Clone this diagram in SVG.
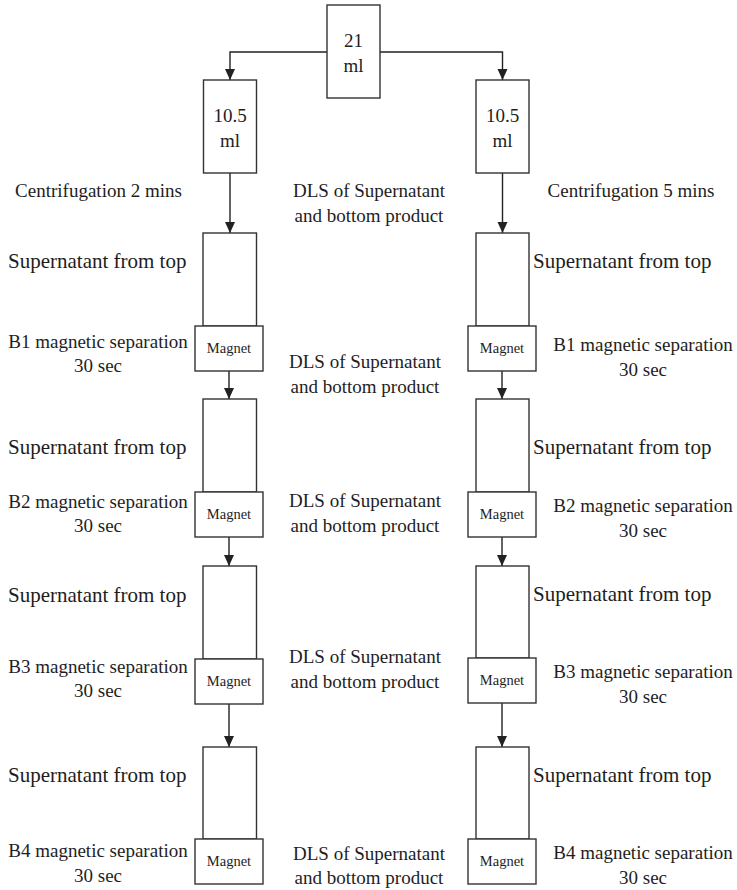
<svg xmlns="http://www.w3.org/2000/svg" width="737" height="890" viewBox="0 0 737 890">
<style>
  .box { fill: #ffffff; stroke: #333333; stroke-width: 1.4; }
  .conn { fill: none; stroke: #222222; stroke-width: 1.4; }
  text { font-family: "Liberation Serif", "Times New Roman", serif; fill: #1e1e1e; }
  .vol { font-size: 19px; text-anchor: middle; }
  .lbl { font-size: 19px; text-anchor: middle; }
  .sup { font-size: 21px; }
  .mag { font-size: 14.5px; text-anchor: middle; }
</style>
<defs>
  <marker id="arr" markerUnits="userSpaceOnUse" markerWidth="11" markerHeight="11" viewBox="0 0 11 10" refX="11" refY="5" orient="auto">
    <path d="M0,0 L11,5 L0,10 z" fill="#222222"/>
  </marker>
</defs>
<rect width="737" height="890" fill="#ffffff"/>

<g id="connectors">
  <path class="conn" d="M327,52 H230 V80" marker-end="url(#arr)"/>
  <path class="conn" d="M380,52 H502.5 V80" marker-end="url(#arr)"/>
  <path class="conn" d="M230,173 V233" marker-end="url(#arr)"/>
  <path class="conn" d="M502.5,173 V233" marker-end="url(#arr)"/>
  <path class="conn" d="M229,371 V399" marker-end="url(#arr)"/>
  <path class="conn" d="M229,537 V566" marker-end="url(#arr)"/>
  <path class="conn" d="M229,704 V747" marker-end="url(#arr)"/>
  <path class="conn" d="M502,371 V399" marker-end="url(#arr)"/>
  <path class="conn" d="M502,537 V566" marker-end="url(#arr)"/>
  <path class="conn" d="M502,703 V747" marker-end="url(#arr)"/>
</g>

<g id="top21">
  <rect class="box" x="327" y="5" width="53" height="93"/>
  <text class="vol" x="353.5" y="47">21</text>
  <text class="vol" x="353.5" y="72">ml</text>
</g>
<g id="left105">
  <rect class="box" x="203.5" y="80" width="53" height="93"/>
  <text class="vol" x="230" y="122">10.5</text>
  <text class="vol" x="230" y="147">ml</text>
</g>
<g id="right105">
  <rect class="box" x="476" y="80" width="53" height="93"/>
  <text class="vol" x="502.5" y="122">10.5</text>
  <text class="vol" x="502.5" y="147">ml</text>
</g>

<g id="left-tube1"><rect class="box" x="203" y="233" width="53.5" height="93"/></g>
<g id="left-mag1"><rect class="box" x="195" y="326" width="68" height="45"/><text class="mag" x="229" y="353">Magnet</text></g>
<g id="left-tube2"><rect class="box" x="203" y="399" width="53.5" height="93"/></g>
<g id="left-mag2"><rect class="box" x="195" y="492" width="68" height="45"/><text class="mag" x="229" y="519">Magnet</text></g>
<g id="left-tube3"><rect class="box" x="203" y="566" width="53.5" height="93"/></g>
<g id="left-mag3"><rect class="box" x="195" y="659" width="68" height="45"/><text class="mag" x="229" y="686">Magnet</text></g>
<g id="left-tube4"><rect class="box" x="203" y="747" width="53.5" height="92"/></g>
<g id="left-mag4"><rect class="box" x="195" y="839" width="68" height="45"/><text class="mag" x="229" y="866">Magnet</text></g>

<g id="right-tube1"><rect class="box" x="476" y="233" width="53" height="93"/></g>
<g id="right-mag1"><rect class="box" x="468" y="326" width="68" height="45"/><text class="mag" x="502" y="353">Magnet</text></g>
<g id="right-tube2"><rect class="box" x="476" y="399" width="53" height="93"/></g>
<g id="right-mag2"><rect class="box" x="468" y="492" width="68" height="45"/><text class="mag" x="502" y="519">Magnet</text></g>
<g id="right-tube3"><rect class="box" x="476" y="566" width="53" height="92"/></g>
<g id="right-mag3"><rect class="box" x="468" y="658" width="68" height="45"/><text class="mag" x="502" y="685">Magnet</text></g>
<g id="right-tube4"><rect class="box" x="476" y="747" width="53" height="92"/></g>
<g id="right-mag4"><rect class="box" x="468" y="839" width="68" height="45"/><text class="mag" x="502" y="866">Magnet</text></g>

<g id="labels-left">
  <text class="lbl" x="98.5" y="197">Centrifugation 2 mins</text>
  <text class="sup" x="8" y="268">Supernatant from top</text>
  <text class="lbl" x="98" y="348">B1 magnetic separation</text>
  <text class="lbl" x="98" y="372">30 sec</text>
  <text class="sup" x="8" y="454">Supernatant from top</text>
  <text class="lbl" x="98" y="508">B2 magnetic separation</text>
  <text class="lbl" x="98" y="532">30 sec</text>
  <text class="sup" x="8" y="602">Supernatant from top</text>
  <text class="lbl" x="98" y="673">B3 magnetic separation</text>
  <text class="lbl" x="98" y="697">30 sec</text>
  <text class="sup" x="8" y="782">Supernatant from top</text>
  <text class="lbl" x="98" y="857">B4 magnetic separation</text>
  <text class="lbl" x="98" y="882">30 sec</text>
</g>

<g id="labels-middle">
  <text class="lbl" x="369" y="197">DLS of Supernatant</text>
  <text class="lbl" x="369" y="222">and bottom product</text>
  <text class="lbl" x="365" y="368">DLS of Supernatant</text>
  <text class="lbl" x="365" y="393">and bottom product</text>
  <text class="lbl" x="365" y="507">DLS of Supernatant</text>
  <text class="lbl" x="365" y="532">and bottom product</text>
  <text class="lbl" x="365" y="663">DLS of Supernatant</text>
  <text class="lbl" x="365" y="688">and bottom product</text>
  <text class="lbl" x="369" y="860">DLS of Supernatant</text>
  <text class="lbl" x="369" y="884">and bottom product</text>
</g>

<g id="labels-right">
  <text class="lbl" x="631" y="197">Centrifugation 5 mins</text>
  <text class="sup" x="533" y="268">Supernatant from top</text>
  <text class="lbl" x="643" y="351">B1 magnetic separation</text>
  <text class="lbl" x="643" y="376">30 sec</text>
  <text class="sup" x="533" y="454">Supernatant from top</text>
  <text class="lbl" x="643" y="512">B2 magnetic separation</text>
  <text class="lbl" x="643" y="537">30 sec</text>
  <text class="sup" x="533" y="601">Supernatant from top</text>
  <text class="lbl" x="643" y="678">B3 magnetic separation</text>
  <text class="lbl" x="643" y="703">30 sec</text>
  <text class="sup" x="533" y="782">Supernatant from top</text>
  <text class="lbl" x="643" y="859">B4 magnetic separation</text>
  <text class="lbl" x="643" y="884">30 sec</text>
</g>
</svg>
